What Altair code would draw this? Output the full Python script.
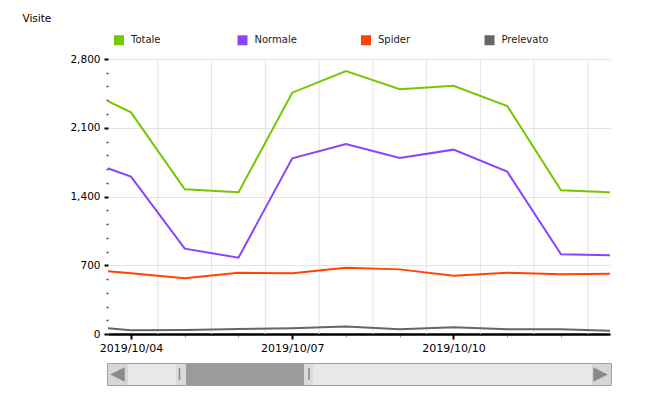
import altair as alt
import pandas as pd

# ---- data ----
dates = ["2019-10-03", "2019-10-04", "2019-10-05", "2019-10-06", "2019-10-07",
         "2019-10-08", "2019-10-09", "2019-10-10", "2019-10-11", "2019-10-12",
         "2019-10-13"]
totale = [2526, 2257, 1473, 1443, 2457, 2678, 2492, 2528, 2322, 1463, 1441]
normale = [1800, 1602, 869, 777, 1789, 1935, 1792, 1877, 1653, 812, 800]
spider = [665, 618, 567, 624, 618, 675, 658, 594, 624, 608, 615]
prelevato = [85, 38, 41, 51, 58, 77, 48, 68, 48, 48, 33]
series = ["Totale", "Normale", "Spider", "Prelevato"]
colors = ["#74c800", "#8844ff", "#ff4400", "#666666"]
labelled_days = ["2019-10-04", "2019-10-07", "2019-10-10"]
y_ticks = list(range(0, 2801, 140))

rows = []
for name, vals in zip(series, [totale, normale, spider, prelevato]):
    for d, v in zip(dates, vals):
        rows.append({"date": d, "series": name, "value": v})
df = pd.DataFrame(rows)

noon = pd.DataFrame({"date": [d + "T12:00:00Z" for d in dates]})


def ms(d):
    return int(pd.Timestamp(d, tz="UTC").timestamp() * 1000)


day_vals = [ms(d) for d in dates[1:-1]]
major_vals = [ms(d) for d in labelled_days]
major_test = "indexof([" + ",".join(str(v) for v in major_vals) + "], +datum.value) >= 0"

FONT = "DejaVu Sans"

x_scale = alt.Scale(
    type="utc",
    domain=[alt.DateTime(year=2019, month=10, date=3, hours=13, minutes=44, utc=True),
            alt.DateTime(year=2019, month=10, date=12, hours=21, minutes=53, utc=True)],
)
x_axis = alt.Axis(
    values=day_vals,
    labelExpr="(" + major_test + ") ? utcFormat(datum.value, '%Y/%m/%d') : ''",
    title=None,
    grid=False,
    domainColor="#000000",
    domainWidth=2.5,
    tickSize={"condition": {"test": major_test, "value": 5}, "value": 3},
    tickWidth={"condition": {"test": major_test, "value": 2}, "value": 1},
    tickColor={"condition": {"test": major_test, "value": "#000000"}, "value": "#999999"},
    labelFont=FONT,
    labelFontSize=11,
    labelColor="#000000",
    labelPadding=3,
    labelFlush=False,
    labelOverlap=False,
)


def xenc():
    return alt.X("date:T", scale=x_scale, axis=x_axis)


y_test = "datum.value % 700 === 0"
y_axis = alt.Axis(
    values=y_ticks,
    labelExpr="(" + y_test + ") ? format(datum.value, ',') : ''",
    title="Visite",
    titleAngle=0,
    titleX=-86,
    titleY=-41,
    titleAlign="left",
    titleBaseline="middle",
    titleFont=FONT,
    titleFontSize=10.5,
    titleFontWeight="normal",
    titleColor="#000000",
    domain=False,
    grid=True,
    gridColor={"condition": {"test": y_test, "value": "#e3e3e3"}, "value": "transparent"},
    tickSize={"condition": {"test": y_test, "value": 4}, "value": 2},
    tickWidth={"condition": {"test": y_test, "value": 2}, "value": 1.5},
    tickColor={"condition": {"test": y_test, "value": "#000000"}, "value": "#444444"},
    labelFont=FONT,
    labelFontSize=10.5,
    labelColor="#000000",
    labelPadding=4,
    labelFlush=False,
    labelOverlap=False,
)

grid_rules = alt.Chart(noon).mark_rule(color="#e3e3e3", strokeWidth=1, clip=True).encode(
    x=xenc()
)

lines = alt.Chart(df).mark_line(strokeWidth=2, clip=True).encode(
    x=xenc(),
    y=alt.Y("value:Q", scale=alt.Scale(domain=[0, 2800], nice=False), axis=y_axis),
    color=alt.Color(
        "series:N",
        scale=alt.Scale(domain=series, range=colors),
        legend=alt.Legend(
            title=None,
            orient="none",
            legendX=6,
            legendY=-24,
            direction="horizontal",
            columns=4,
            symbolType="square",
            symbolSize=25,
            symbolStrokeWidth=5,
            labelFont=FONT,
            labelFontSize=10,
            labelColor="#222222",
            labelOffset=7,
            gridAlign="all",
            columnPadding=51.5,
            padding=0,
        ),
    ),
    order=alt.Order("series:N"),
)

# ---- decorative scrollbar under the chart (pixel positions, not data) ----
one = pd.DataFrame({"k": [0]})


def rect(x1, x2, y1, y2, fill, stroke=None):
    kw = {"fill": fill}
    if stroke:
        kw["stroke"] = stroke
        kw["strokeWidth"] = 1
    return alt.Chart(one).mark_rect(**kw).encode(
        x=alt.value(x1), x2=alt.value(x2), y=alt.value(y1), y2=alt.value(y2)
    )


def grip(x):
    return alt.Chart(one).mark_rule(color="#888888", strokeWidth=1.5).encode(
        x=alt.value(x), y=alt.value(309), y2=alt.value(321)
    )


def tri(x, path):
    return alt.Chart(one).mark_point(shape=path, filled=True, color="#8a8a8a",
                                     opacity=1, size=210).encode(
        x=alt.value(x), y=alt.value(315.5)
    )


scroll = [
    rect(-0.5, 503.5, 304.5, 326.5, "#e8e8e8", "#a0a0a0"),
    rect(0, 20, 305, 326, "#d6d6d6"),
    rect(484, 503, 305, 326, "#d6d6d6"),
    rect(68, 78, 305, 326, "#dadada"),
    rect(78, 196, 305, 326, "#9b9b9b"),
    rect(196, 205, 305, 326, "#dadada"),
    grip(71.5),
    grip(201),
    tri(9.5, "M 1 -1 L -1 0 L 1 1 Z"),
    tri(492.5, "M -1 -1 L 1 0 L -1 1 Z"),
]

chart = alt.layer(grid_rules, lines, *scroll).properties(
    width=502,
    height=275,
    autosize=alt.AutoSizeParams(type="none"),
    padding={"left": 100, "top": 51, "right": 25, "bottom": 56},
    background="#ffffff",
).configure_view(strokeWidth=0)

chart.save("out.html", embed_options={"renderer": "svg", "actions": False})
